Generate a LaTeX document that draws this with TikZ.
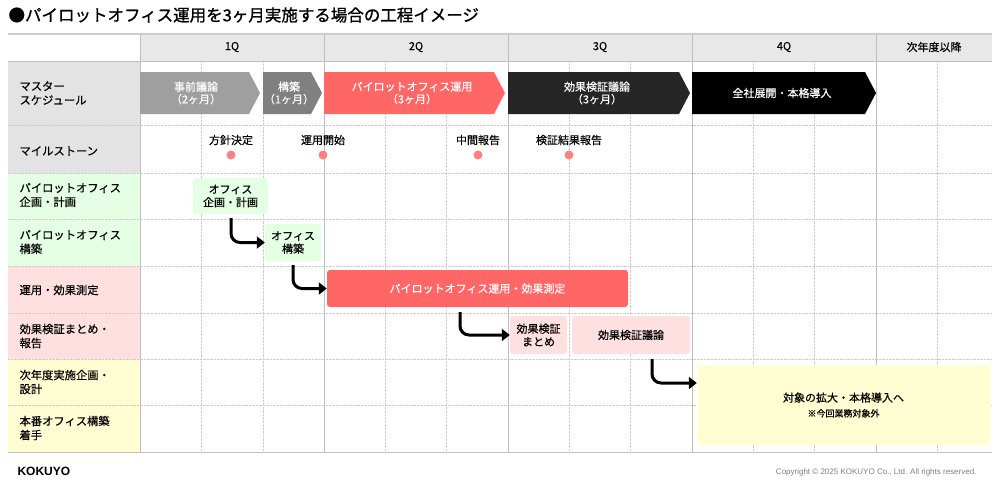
\documentclass[tikz,border=0pt]{standalone}
\usepackage{fontspec}
\usetikzlibrary{arrows.meta}
\setmainfont[FakeBold=0.4]{Noto Sans CJK JP}
\newfontfamily\ttl[FakeBold=1]{Noto Sans CJK JP}
\newfontfamily\lat{Liberation Sans}
\begin{document}
\begin{tikzpicture}[x=1pt,y=-1pt,font=\fontsize{11}{13}\selectfont,
 lab/.style={anchor=west,align=left,font=\fontsize{11.3}{14}\selectfont},
 chev/.style={text=white,align=center,font=\fontsize{11}{12.5}\selectfont},
 task/.style={rounded corners=3pt,align=center,inner sep=0pt,font=\fontsize{11}{13}\selectfont},
 ms/.style={circle,fill=red!50!white,inner sep=0pt,minimum size=9pt},
 flow/.style={line width=3pt,-{Triangle[length=8pt,width=12pt]},rounded corners=9pt}]
\useasboundingbox (0,0) rectangle (1000,485);
\fill[white] (0,0) rectangle (1000,485);
\node[anchor=west,font=\ttl\fontsize{16.5}{18}\selectfont] (title) at (5,15) {●パイロットオフィス運用を3ヶ月実施する場合の工程イメージ};
% backgrounds
\fill[gray!18] (140,34) rectangle (992,61);
\fill[gray!22] (8,61) rectangle (140,173);
\fill[green!10!white] (8,173) rectangle (140,266);
\fill[red!12!white] (8,266) rectangle (140,359);
\fill[yellow!18!white] (8,359) rectangle (140,452);
% grid
\foreach \x in {201,263,385,446,569,630,753,814,937}
  \draw[gray!40,densely dotted] (\x,61) -- (\x,452);
\foreach \y in {125,173,219,266,313,359,405}
  \draw[gray!40,densely dotted] (8,\y) -- (992,\y);
\foreach \x in {140,324,508,692,876}
  \draw[gray!50,line width=0.8pt] (\x,34) -- (\x,452);
\draw[gray!40,line width=2pt] (8,34) -- (992,34);
\draw[gray!50,line width=0.8pt] (8,61) -- (992,61);
\draw[gray!50,line width=0.8pt] (8,452) -- (992,452);
% header
\foreach \t/\x in {1Q/232,2Q/416,3Q/600,4Q/784,次年度以降/934}
  \node at (\x,47) {\t};
% labels
\node[lab] (l1) at (16,93) {マスター\\スケジュール};
\node[lab] (l2) at (16,151) {マイルストーン};
\node[lab] (l3) at (16,195) {パイロットオフィス\\企画・計画};
\node[lab] (l4) at (16,242) {パイロットオフィス\\構築};
\node[lab] (l5) at (16,290) {運用・効果測定};
\node[lab] (l6) at (16,336) {効果検証まとめ・\\報告};
\node[lab] (l7) at (16,382) {次年度実施企画・\\設計};
\node[lab] (l8) at (16,428) {本番オフィス構築\\着手};
% chevrons
\fill[gray!75] (140,72) -- (249,72) -- (260,93) -- (249,114) -- (140,114) -- cycle;
\fill[gray] (263,72) -- (311,72) -- (322,93) -- (311,114) -- (263,114) -- cycle;
\fill[red!60!white] (324,72) -- (494,72) -- (505,93) -- (494,114) -- (324,114) -- cycle;
\fill[black!85] (508,72) -- (679,72) -- (690,93) -- (679,114) -- (508,114) -- cycle;
\fill[black] (692,72) -- (865,72) -- (876,93) -- (865,114) -- (692,114) -- cycle;
\node[chev] (c1) at (196,93) {事前議論\\（2ヶ月）};
\node[chev] (c2) at (289,93) {構築\\（1ヶ月）};
\node[chev] (c3) at (412,93) {パイロットオフィス運用\\（3ヶ月）};
\node[chev] (c4) at (597,93) {効果検証議論\\（3ヶ月）};
\node[chev] (c5) at (782,93) {全社展開・本格導入};
% milestones
\node[ms] (m1) at (231,155) {}; \node (t1) at (231,140) {方針決定};
\node[ms] (m2) at (323,155) {}; \node (t2) at (323,140) {運用開始};
\node[ms] (m3) at (478,155) {}; \node (t3) at (478,140) {中間報告};
\node[ms] (m4) at (569,155) {}; \node (t4) at (569,140) {検証結果報告};
% tasks
\node[task,fill=green!10!white,minimum width=75pt,minimum height=36pt] (a) at (230.5,196) {オフィス\\企画・計画};
\node[task,fill=green!10!white,minimum width=56pt,minimum height=37pt] (b) at (293,242.5) {オフィス\\構築};
\node[task,fill=red!60!white,text=white,minimum width=301pt,minimum height=37pt] (c) at (477.5,288.5) {パイロットオフィス運用・効果測定};
\node[task,fill=red!12!white,minimum width=57pt,minimum height=38pt] (d) at (538.5,335) {効果検証\\まとめ};
\node[task,fill=red!12!white,minimum width=118pt,minimum height=38pt] (e) at (631,335) {効果検証議論};
\node[task,fill=yellow!18!white,minimum width=293pt,minimum height=80pt] (f) at (843.5,405) {対象の拡大・本格導入へ\\[2pt]{\fontsize{9}{10}\selectfont ※今回業務対象外}};
% flows
\draw[flow] (231,218) |- (b.west);
\draw[flow] (293,265) |- (c.west);
\draw[flow] (460,312) |- (d.west);
\draw[flow] (652,359) |- (f.west|-0,383);
% footer
\node[anchor=west,font=\lat\fontsize{12}{14}\selectfont\bfseries] (logo) at (14,471) {KOKUYO};
\node[anchor=east,text=gray,font=\lat\fontsize{8}{9}\selectfont] (copy) at (980,472) {Copyright © 2025 KOKUYO Co., Ltd. All rights reserved.};
\end{tikzpicture}
\end{document}
